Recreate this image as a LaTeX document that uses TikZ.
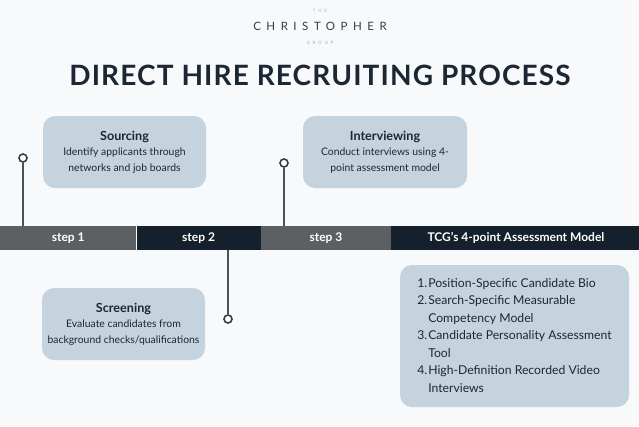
\documentclass[tikz,border=0pt]{standalone}
\usepackage{fontspec}
\setmainfont{Lato}
\usetikzlibrary{positioning}

\definecolor{bargray}{HTML}{5C6064}
\definecolor{barnavy}{HTML}{14202C}
\definecolor{boxfill}{HTML}{C5D3DE}
\definecolor{ink}{HTML}{1C2733}
\definecolor{pale}{HTML}{F8F9FA}
\definecolor{logogray}{HTML}{A9ACB0}

\newcommand{\cardhead}[1]{{\bfseries\fontsize{12.6}{14}\selectfont #1}}

\tikzset{
  seg/.style={minimum height=24pt, inner sep=0pt, text=white,
    font=\bfseries\fontsize{12}{13}\selectfont},
  card/.style={fill=boxfill, rounded corners=12pt, inner sep=0pt, text=ink,
    align=center, font=\fontsize{10.4}{15.5}\selectfont},
  pin/.style={circle, draw=ink!90, line width=1.6pt, fill=white,
    inner sep=0pt, minimum size=8pt},
  stem/.style={draw=bargray!85!black, line width=1.6pt},
}

\begin{document}
\begin{tikzpicture}[x=1pt,y=-1pt]

% fond
\fill[pale] (0,0) rectangle (639,426);
\useasboundingbox (0,0) rectangle (639,426);

% logo et titre
\node[anchor=base, text=logogray, font=\fontsize{4.5}{5}\selectfont\addfontfeatures{LetterSpace=60}] (logothe) at (320,12) {THE};
\node[anchor=base, text=ink!90, font=\fontsize{11.5}{12}\selectfont\addfontfeatures{LetterSpace=48}] (logoname) at (320,30) {CHRISTOPHER};
\node[anchor=base, text=logogray, font=\fontsize{4.5}{5}\selectfont\addfontfeatures{LetterSpace=60}] (logogroup) at (320,44) {GROUP};
\node[anchor=base, text=ink, font=\bfseries\fontsize{28}{30}\selectfont\addfontfeatures{LetterSpace=4}] (title) at (320,85) {DIRECT HIRE RECRUITING PROCESS};

% barre des etapes
\node[seg, fill=bargray, minimum width=136pt, anchor=north west] (s1) at (0,226) {step 1};
\node[seg, fill=barnavy, minimum width=124pt, right=0pt of s1] (s2) {step 2};
\node[seg, fill=bargray, minimum width=130pt, right=0pt of s2] (s3) {step 3};
\node[seg, fill=barnavy, minimum width=249pt, right=0pt of s3] (s4) {TCG's 4-point Assessment Model};

% cartes
\node[card, minimum width=163pt, minimum height=72pt] (sourcing) at (124.5,152)
  {\cardhead{Sourcing}\\[0pt] Identify applicants through\\ networks and job boards};
\node[card, minimum width=164pt, minimum height=72pt] (interview) at (385,152)
  {\cardhead{Interviewing}\\[0pt] Conduct interviews using 4-\\ point assessment model};
\node[card, minimum width=163pt, minimum height=72pt] (screening) at (123.5,324)
  {\cardhead{Screening}\\[0pt] Evaluate candidates from\\ background checks/qualifications};
\node[card, minimum width=229pt, minimum height=142pt, align=left,
  font=\fontsize{12.2}{17.5}\selectfont] (tcgbox) at (514.5,336)
  {\begin{tabular}{@{}l@{\hspace{1pt}}l@{}}
   1. & Position-Specific Candidate Bio\\
   2. & Search-Specific Measurable\\
      & Competency Model\\
   3. & Candidate Personality Assessment\\
      & Tool\\
   4. & High-Definition Recorded Video\\
      & Interviews
   \end{tabular}};

% epingles
\node[pin] (p1) at (23,158) {};
\node[pin] (p2) at (228,319) {};
\node[pin] (p3) at (284,163) {};
\draw[stem] (p1) -- (p1 |- s1.north);
\draw[stem] (p2) -- (p2 |- s2.south);
\draw[stem] (p3) -- (p3 |- s3.north);

\end{tikzpicture}
\end{document}
